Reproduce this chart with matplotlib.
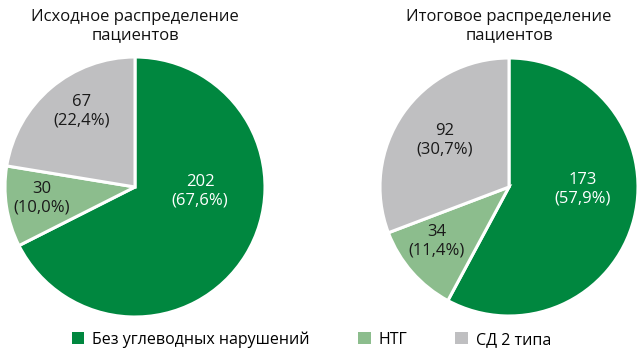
import matplotlib.pyplot as plt
from matplotlib.patches import Patch

plt.rcParams['font.family'] = ['Open Sans', 'DejaVu Sans']

categories = ["Без углеводных нарушений", "НТГ", "СД 2 типа"]
colors = ["#00873f", "#8cbd8d", "#bfbfc1"]

titles = ["Исходное распределение\nпациентов", "Итоговое распределение\nпациентов"]
counts_start = [202, 30, 67]
pct_start = ["67,6%", "10,0%", "22,4%"]
counts_end = [173, 34, 92]
pct_end = ["57,9%", "11,4%", "30,7%"]

W, H = 642, 355
fig = plt.figure(figsize=(W / 100, H / 100), dpi=100)

# pie center (px from left/top), radius, label positions in radius units
setups = [
    (135, 187, 130, counts_start, pct_start, [(0.50, -0.03), (-0.72, -0.085), (-0.41, 0.58)]),
    (509, 187, 129, counts_end, pct_end, [(0.57, -0.02), (-0.56, -0.42), (-0.50, 0.36)]),
]

for (cx, cy, r, counts, pcts, lpos), title in zip(setups, titles):
    ax = fig.add_axes([(cx - r) / W, (H - cy - r) / H, 2 * r / W, 2 * r / H])
    ax.pie(counts, colors=colors, startangle=90, counterclock=False,
           wedgeprops=dict(edgecolor="white", linewidth=2.2))
    ax.set_xlim(-1, 1)
    ax.set_ylim(-1, 1)
    ax.set_aspect("auto")
    ax.axis("off")
    for i, (c, p) in enumerate(zip(counts, pcts)):
        col = "white" if i == 0 else "#1a1a1a"
        ax.text(lpos[i][0], lpos[i][1], f"{c}\n({p})", ha="center", va="center",
                fontsize=12, color=col, linespacing=1.2)
    fig.text(cx / W, 1 - 9 / H, title, ha="center", va="top", fontsize=12,
             color="#111111", linespacing=1.15)

handles = [Patch(facecolor=c, edgecolor="none") for c in colors]
fig.legend(handles, categories, loc="lower center", bbox_to_anchor=(0.485, -0.02),
           ncol=3, frameon=False, fontsize=11.5, handlelength=0.8, handleheight=0.8,
           handletextpad=0.5, columnspacing=3.0)

fig.savefig("out.png", dpi=100)
